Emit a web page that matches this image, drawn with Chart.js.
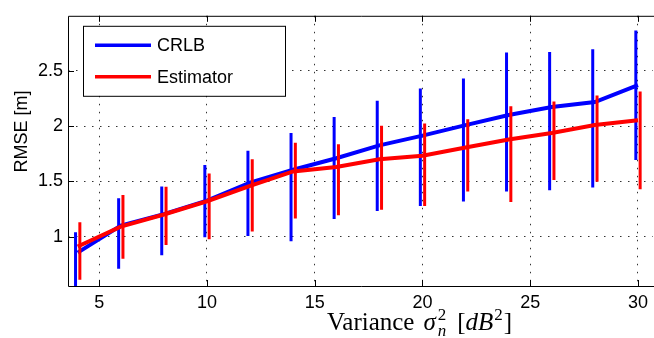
<!DOCTYPE html>
<html>
<head>
<meta charset="utf-8">
<script src="https://cdn.jsdelivr.net/npm/chart.js@4"></script>
<style>
  body { margin: 0; background: #fff; }
  canvas { display: block; }
</style>
</head>
<body>
<canvas id="rmseChart" width="654" height="338"></canvas>
<script>
// noise variance values (dB^2)
const variance = [4, 6, 8, 10, 12, 14, 16, 18, 20, 22, 24, 26, 28, 30];

// CRLB curve with error bar ends
const crlb   = [0.855, 1.10, 1.203, 1.326, 1.488, 1.605, 1.709, 1.826, 1.914, 2.009, 2.10, 2.173, 2.217, 2.371];
const crlbHi = [1.04, 1.347, 1.453, 1.647, 1.777, 1.938, 2.082, 2.229, 2.341, 2.43, 2.665, 2.671, 2.695, 2.865];
const crlbLo = [0.50, 0.71, 0.832, 0.994, 1.005, 0.958, 1.159, 1.232, 1.276, 1.318, 1.409, 1.42, 1.444, 1.694];

// estimator RMSE with error bar ends
const est   = [0.91, 1.09, 1.20, 1.32, 1.46, 1.59, 1.63, 1.70, 1.732, 1.806, 1.879, 1.938, 2.009, 2.053];
const estHi = [1.13, 1.376, 1.45, 1.57, 1.70, 1.85, 1.835, 2.003, 2.024, 2.062, 2.18, 2.223, 2.276, 2.312];
const estLo = [0.61, 0.80, 0.923, 0.976, 1.047, 1.164, 1.194, 1.244, 1.276, 1.409, 1.312, 1.512, 1.497, 1.429];

const xTicks = [5, 10, 15, 20, 25, 30];
const yTicks = [1, 1.5, 2, 2.5];

const BLUE = '#0000ff';
const RED = '#ff0000';
const SANS = "'Liberation Sans', Arial, sans-serif";
const SERIF = "'Liberation Serif', 'Times New Roman', serif";
const barShift = 0.1;

function linePoints(ys) {
    return variance.map((x, i) => ({ x: x, y: ys[i] }));
}

// vertical error bars as one broken line per series
function barPoints(lo, hi, shift) {
    const pts = [];
    variance.forEach((x, i) => {
        pts.push({ x: x + shift, y: lo[i] });
        pts.push({ x: x + shift, y: hi[i] });
        pts.push({ x: x + shift, y: null });
    });
    return pts;
}

const matlabAxes = {
    id: 'matlabAxes',
    afterDatasetsDraw(chart) {
        const { ctx, chartArea: a, scales: { x, y } } = chart;
        ctx.save();
        ctx.strokeStyle = '#000';
        ctx.lineWidth = 1;
        ctx.beginPath();
        ctx.moveTo(a.right + 5, a.top + 0.5);
        ctx.lineTo(a.left + 0.5, a.top + 0.5);
        ctx.lineTo(a.left + 0.5, a.bottom + 0.5);
        ctx.lineTo(a.right + 5, a.bottom + 0.5);
        // inward tick marks
        xTicks.forEach(v => {
            const px = Math.round(x.getPixelForValue(v)) + 0.5;
            ctx.moveTo(px, a.bottom);
            ctx.lineTo(px, a.bottom - 6);
            ctx.moveTo(px, a.top);
            ctx.lineTo(px, a.top + 6);
        });
        yTicks.forEach(v => {
            const py = Math.round(y.getPixelForValue(v)) + 0.5;
            ctx.moveTo(a.left, py);
            ctx.lineTo(a.left + 6, py);
        });
        ctx.stroke();

        // legend box
        const lx = a.left + 15, ly = a.top + 10, lw = 202, lh = 70;
        ctx.fillStyle = '#fff';
        ctx.fillRect(lx, ly, lw, lh);
        ctx.strokeRect(lx + 0.5, ly + 0.5, lw, lh);
        const entries = [
            { label: chart.data.datasets[1].label, color: BLUE, y: ly + 19.5 },
            { label: chart.data.datasets[3].label, color: RED, y: ly + 51 }
        ];
        ctx.font = '18px ' + SANS;
        ctx.textBaseline = 'middle';
        ctx.textAlign = 'left';
        entries.forEach(e => {
            ctx.strokeStyle = e.color;
            ctx.lineWidth = 3.5;
            ctx.beginPath();
            ctx.moveTo(lx + 12, e.y);
            ctx.lineTo(lx + 68, e.y);
            ctx.stroke();
            ctx.fillStyle = '#000';
            ctx.fillText(e.label, lx + 74, e.y + 1);
        });
        ctx.restore();
    },
    afterDraw(chart) {
        const ctx = chart.ctx;
        ctx.save();
        ctx.fillStyle = '#000';

        // y title
        ctx.save();
        ctx.translate(26.5, 131.5);
        ctx.rotate(-Math.PI / 2);
        ctx.font = '18px ' + SANS;
        ctx.textAlign = 'center';
        ctx.textBaseline = 'alphabetic';
        ctx.fillText('RMSE [m]', 0, 0);
        ctx.restore();

        // x title: Variance sigma_n^2 [dB^2]
        const base = 330;
        let cx = 327;
        const big = '25px ' + SERIF;
        const bigIt = 'italic 25px ' + SERIF;
        const small = '17px ' + SERIF;
        const smallIt = 'italic 17px ' + SERIF;
        ctx.textAlign = 'left';
        ctx.textBaseline = 'alphabetic';
        const put = (txt, font, dy) => {
            ctx.font = font;
            ctx.fillText(txt, cx, base + dy);
            return ctx.measureText(txt).width;
        };
        cx += put('Variance', big, 0) + 9;
        cx += put('\u03c3', bigIt, 0) + 2;
        const w1 = put('2', small, -10);
        const w2 = put('n', smallIt, 6);
        cx += Math.max(w1, w2) + 11;
        cx += put('[', big, 0);
        cx += put('dB', bigIt, 0) + 1;
        cx += put('2', small, -10) + 1;
        put(']', big, 0);
        ctx.restore();
    }
};

new Chart(document.getElementById('rmseChart'), {
    type: 'line',
    data: {
        datasets: [
            {
                label: 'CRLB bars',
                data: barPoints(crlbLo, crlbHi, -barShift),
                borderColor: BLUE,
                borderWidth: 3,
                pointRadius: 0,
                spanGaps: false,
                clip: 0,
                order: 4
            },
            {
                label: 'CRLB',
                data: linePoints(crlb),
                borderColor: BLUE,
                borderWidth: 4,
                pointRadius: 0,
                tension: 0,
                clip: 0,
                order: 3
            },
            {
                label: 'Estimator bars',
                data: barPoints(estLo, estHi, barShift),
                borderColor: RED,
                borderWidth: 3,
                pointRadius: 0,
                spanGaps: false,
                clip: 0,
                order: 2
            },
            {
                label: 'Estimator',
                data: linePoints(est),
                borderColor: RED,
                borderWidth: 4,
                pointRadius: 0,
                tension: 0,
                clip: 0,
                order: 1
            }
        ]
    },
    options: {
        responsive: false,
        animation: false,
        layout: { padding: { top: 9, left: 0, right: 0, bottom: 0 } },
        plugins: {
            legend: { display: false },
            tooltip: { enabled: false }
        },
        scales: {
            x: {
                type: 'linear',
                min: 3.55,
                max: 30.68,
                afterBuildTicks: s => { s.ticks = xTicks.map(v => ({ value: v })); },
                afterFit: s => { s.height = 52; },
                grid: { color: '#333', lineWidth: 1, drawTicks: false },
                border: { display: false, dash: [1.5, 6.5] },
                ticks: {
                    color: '#000',
                    font: { family: SANS, size: 18 },
                    padding: 6,
                    maxRotation: 0,
                    callback: v => String(v)
                }
            },
            y: {
                type: 'linear',
                min: 0.553,
                max: 2.998,
                afterBuildTicks: s => { s.ticks = yTicks.map(v => ({ value: v })); },
                afterFit: s => { s.width = 68; },
                grid: { color: '#333', lineWidth: 1, drawTicks: false },
                border: { display: false, dash: [1.5, 6.5] },
                ticks: {
                    color: '#000',
                    font: { family: SANS, size: 18 },
                    padding: 5,
                    callback: v => String(v)
                }
            }
        }
    },
    plugins: [matlabAxes]
});
</script>
</body>
</html>
